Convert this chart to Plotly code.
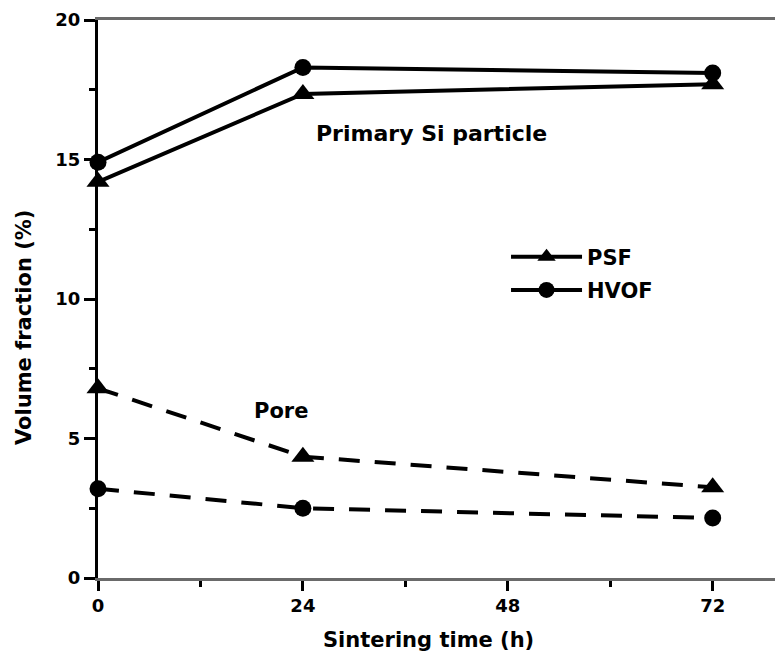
import plotly.graph_objects as go

# ---- data ----
time_h = [0, 24, 72]
psf_primary = [14.2, 17.35, 17.7]
hvof_primary = [14.9, 18.3, 18.1]
psf_pore = [6.8, 4.35, 3.25]
hvof_pore = [3.2, 2.5, 2.15]

x_ticks = [0, 24, 48, 72]
y_ticks = [0, 5, 10, 15, 20]
series_names = ["PSF", "HVOF"]

FONT = "DejaVu Sans"
LW = 4
tri = dict(symbol="triangle-up", size=20, color="black")
circ = dict(symbol="circle", size=17, color="black")
DASH = "21px,15px"

fig = go.Figure()
fig.add_trace(go.Scatter(x=time_h, y=psf_primary, mode="lines+markers", name=series_names[0],
                         line=dict(color="black", width=LW), marker=tri,
                         legendgroup="a", cliponaxis=False))
fig.add_trace(go.Scatter(x=time_h, y=hvof_primary, mode="lines+markers", name=series_names[1],
                         line=dict(color="black", width=LW), marker=circ,
                         legendgroup="b", cliponaxis=False))
fig.add_trace(go.Scatter(x=time_h, y=psf_pore, mode="lines+markers", name=series_names[0] + " pore",
                         line=dict(color="black", width=LW, dash=DASH), marker=tri,
                         showlegend=False, cliponaxis=False))
fig.add_trace(go.Scatter(x=time_h, y=hvof_pore, mode="lines+markers", name=series_names[1] + " pore",
                         line=dict(color="black", width=LW, dash=DASH), marker=circ,
                         showlegend=False, cliponaxis=False))

fig.update_layout(
    width=775, height=661,
    margin=dict(l=98, r=0, t=20, b=83),
    paper_bgcolor="white", plot_bgcolor="white",
    font=dict(family=FONT, color="black", size=18, weight="bold"),
    showlegend=True,
    legend=dict(x=0.6027, y=0.612, xanchor="left", yanchor="top",
                bgcolor="rgba(0,0,0,0)", font=dict(size=21, family=FONT, weight="bold"),
                tracegroupgap=3, itemwidth=71),
    xaxis=dict(range=[0, 79.3], tickvals=x_ticks, showgrid=False, zeroline=False,
               showline=True, linecolor="#6a6a6a", linewidth=2.5, mirror=True,
               ticks="outside", ticklen=10, tickwidth=3, tickcolor="black",
               minor=dict(dtick=12, ticks="outside", ticklen=6, tickwidth=2.5, tickcolor="black"),
               tickfont=dict(size=18, family=FONT, weight="bold")),
    yaxis=dict(range=[0, 20], tickvals=y_ticks, showgrid=False, zeroline=False,
               showline=True, linecolor="black", linewidth=3,
               ticks="outside", ticklen=11, tickwidth=2.5, tickcolor="black",
               minor=dict(dtick=2.5, ticks="outside", ticklen=6, tickwidth=2.5, tickcolor="black"),
               tickfont=dict(size=18, family=FONT, weight="bold")),
    annotations=[
        dict(x=(428 - 98) / 677, y=(578 - 640) / 558, xref="paper", yref="paper",
             text="Sintering time (h)", showarrow=False, xanchor="center", yanchor="middle",
             font=dict(size=21, family=FONT, weight="bold")),
        dict(x=(24 - 98) / 677, y=(578 - 328) / 558, xref="paper", yref="paper",
             text="Volume fraction (%)", showarrow=False, textangle=-90,
             xanchor="center", yanchor="middle",
             font=dict(size=21, family=FONT, weight="bold")),
        dict(x=39.1, y=15.95, xref="x", yref="y", text="Primary Si particle", showarrow=False,
             font=dict(size=22, family=FONT, weight="bold")),
        dict(x=21.4, y=5.98, xref="x", yref="y", text="Pore", showarrow=False,
             font=dict(size=21, family=FONT, weight="bold")),
    ],
)

fig.write_html("out.html")
